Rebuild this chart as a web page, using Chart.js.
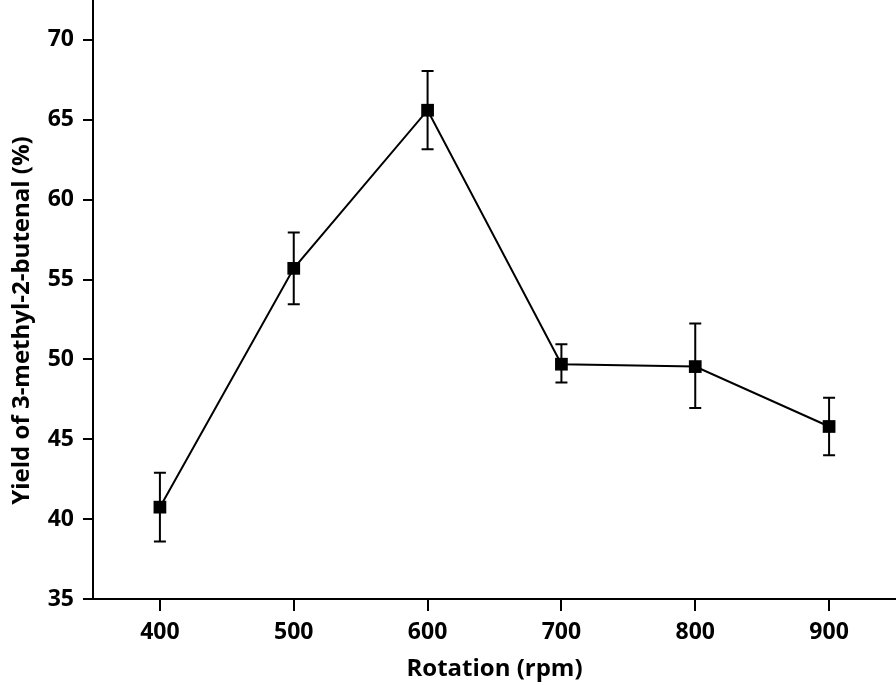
<!DOCTYPE html>
<html>
<head>
<meta charset="utf-8">
<script src="https://cdn.jsdelivr.net/npm/chart.js@4/dist/chart.umd.min.js"></script>
<style>
  html, body { margin: 0; padding: 0; background: #fff; }
  #wrap { width: 896px; height: 685px; position: relative; }
</style>
</head>
<body>
<div id="wrap"><canvas id="chart"></canvas></div>
<script>
// --- Dades ---
const rotacio = [400, 500, 600, 700, 800, 900];
const rendiment = [40.75, 55.7, 65.6, 49.7, 49.55, 45.8];
const errBaix = [38.6, 53.45, 63.15, 48.55, 46.95, 44.0];
const errAlt = [42.9, 57.95, 68.05, 50.95, 52.25, 47.6];
const ticksX = [400, 500, 600, 700, 800, 900];
const ticksY = [35, 40, 45, 50, 55, 60, 65, 70];
const titolY = 'Yield of 3-methyl-2-butenal (%)';

const FONT = "'Open Sans', 'DejaVu Sans', sans-serif";

// barres d'error dibuixades amb les escales del grafic
const barresError = {
    id: 'barresError',
    beforeDatasetsDraw(chart) {
        const { ctx, scales: { x, y } } = chart;
        ctx.save();
        ctx.strokeStyle = '#000';
        ctx.lineWidth = 2;
        rotacio.forEach((r, i) => {
            const px = x.getPixelForValue(r);
            const yTop = y.getPixelForValue(errAlt[i]);
            const yBot = y.getPixelForValue(errBaix[i]);
            ctx.beginPath();
            ctx.moveTo(px, yTop); ctx.lineTo(px, yBot);
            ctx.moveTo(px - 6, yTop); ctx.lineTo(px + 6, yTop);
            ctx.moveTo(px - 6, yBot); ctx.lineTo(px + 6, yBot);
            ctx.stroke();
        });
        ctx.restore();
    }
};

// titol de l'eix Y, una mica desplacat cap avall com a l'original
const titolEixY = {
    id: 'titolEixY',
    afterDraw(chart) {
        const { ctx, chartArea } = chart;
        const cy = (chartArea.top + chartArea.bottom) / 2 + 21;
        ctx.save();
        ctx.translate(22, cy);
        ctx.rotate(-Math.PI / 2);
        ctx.font = `bold 24px ${FONT}`;
        ctx.fillStyle = '#000';
        ctx.textAlign = 'center';
        ctx.textBaseline = 'middle';
        ctx.fillText(titolY, 0, 0);
        ctx.restore();
    }
};

const ctx = document.getElementById('chart').getContext('2d');
new Chart(ctx, {
    type: 'line',
    data: {
        datasets: [{
            data: rotacio.map((r, i) => ({ x: r, y: rendiment[i] })),
            borderColor: '#000',
            borderWidth: 2,
            backgroundColor: '#000',
            pointStyle: 'rect',
            pointRadius: 9,
            pointBackgroundColor: '#000',
            pointBorderColor: '#000',
            pointBorderWidth: 0,
            tension: 0,
            clip: false
        }]
    },
    options: {
        responsive: true,
        maintainAspectRatio: false,
        animation: false,
        layout: { autoPadding: false, padding: 0 },
        plugins: { legend: { display: false }, tooltip: { enabled: false } },
        scales: {
            x: {
                type: 'linear',
                min: 350, max: 950,
                afterBuildTicks: s => { s.ticks = ticksX.map(v => ({ value: v })); },
                afterFit: s => { s.height = 86; s.paddingLeft = 0; s.paddingRight = 0; },
                border: { display: true, color: '#000', width: 2 },
                grid: { display: true, drawOnChartArea: false, drawTicks: true, tickLength: 12, color: '#000', lineWidth: 2 },
                ticks: { color: '#000', padding: 8, maxRotation: 0, font: { family: FONT, size: 23, weight: 'bold' } },
                title: { display: true, text: 'Rotation (rpm)', color: '#000', padding: { top: 4, bottom: 1 }, font: { family: FONT, size: 24, weight: 'bold' } }
            },
            y: {
                type: 'linear',
                min: 35, max: 72.5,
                afterBuildTicks: s => { s.ticks = ticksY.map(v => ({ value: v })); },
                afterFit: s => { s.width = 93; s.paddingTop = 0; s.paddingBottom = 0; },
                border: { display: true, color: '#000', width: 2 },
                grid: { display: true, drawOnChartArea: false, drawTicks: true, tickLength: 10, color: '#000', lineWidth: 2 },
                ticks: { color: '#000', padding: 9, font: { family: FONT, size: 23, weight: 'bold' } },
                title: { display: false }
            }
        }
    },
    plugins: [barresError, titolEixY]
});
</script>
</body>
</html>
